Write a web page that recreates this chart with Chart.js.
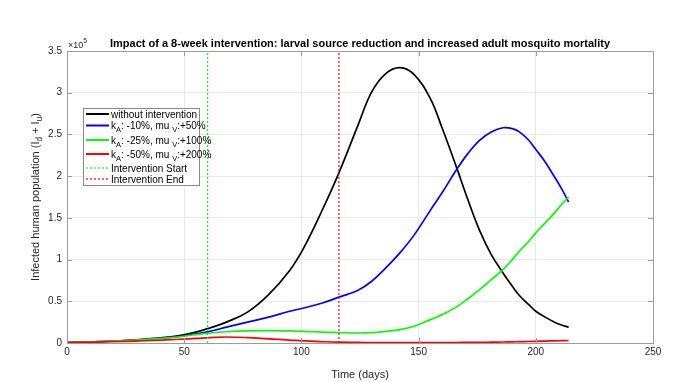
<!DOCTYPE html>
<html>
<head>
<meta charset="utf-8">
<script src="https://cdn.jsdelivr.net/npm/chart.js@4/dist/chart.umd.min.js"></script>
<style>
  html,body{margin:0;padding:0;background:#fff;}
  #wrap{width:697px;height:382px;}
</style>
</head>
<body>
<div id="wrap"><canvas id="c" width="697" height="382"></canvas></div>
<script>
// time (days) and infected humans (x 1e5)
const days = [0,12,25,37,48,55,61,68,77,86,95,101,109,116,124,130,136,142,148,155,160,166,171,176,181,186,190,193,197,200,204,208,211,214];
const noIntervention = [0.005,0.015,0.03,0.055,0.09,0.13,0.18,0.25,0.37,0.58,0.87,1.14,1.60,2.04,2.60,3.01,3.23,3.30,3.22,2.93,2.58,2.12,1.72,1.35,1.06,0.84,0.68,0.57,0.46,0.38,0.31,0.25,0.215,0.19];
const kA10 = [0.005,0.015,0.03,0.05,0.08,0.11,0.14,0.19,0.25,0.31,0.38,0.42,0.48,0.55,0.63,0.74,0.90,1.08,1.29,1.59,1.80,2.07,2.27,2.43,2.53,2.58,2.57,2.53,2.43,2.32,2.17,1.99,1.85,1.69];
const kA25 = [0.005,0.015,0.03,0.05,0.075,0.10,0.12,0.135,0.145,0.148,0.145,0.14,0.13,0.125,0.12,0.125,0.14,0.16,0.20,0.28,0.34,0.43,0.53,0.64,0.76,0.88,1.00,1.10,1.22,1.32,1.44,1.56,1.66,1.75];
const kA50 = [0.003,0.01,0.02,0.03,0.045,0.055,0.065,0.072,0.065,0.05,0.035,0.025,0.016,0.01,0.007,0.005,0.004,0.004,0.004,0.004,0.005,0.006,0.007,0.008,0.01,0.012,0.014,0.016,0.018,0.02,0.023,0.026,0.028,0.03];
const interventionStart = 60, interventionEnd = 116;
const xTicks = [0,50,100,150,200,250];
const yMax = 3.5;

const FONT = '"Liberation Sans", Arial, Helvetica, sans-serif';
const pts = vals => days.map((d,i)=>({x:d,y:vals[i]}));
const vline = d => [{x:d,y:0},{x:d,y:yMax}];

const series = [
  {label:[['without intervention',0]], color:'#000000', data:pts(noIntervention)},
  {label:[['k',0],['A',1],[': -10%, mu ',0],['V',1],[':+50%',0]], color:'#0000ff', data:pts(kA10)},
  {label:[['k',0],['A',1],[': -25%, mu ',0],['V',1],[':+100%',0]], color:'#00ff00', data:pts(kA25)},
  {label:[['k',0],['A',1],[': -50%, mu ',0],['V',1],[':+200%',0]], color:'#ff0000', data:pts(kA50)},
  {label:[['Intervention Start',0]], color:'#00ff00', data:vline(interventionStart), dash:true},
  {label:[['Intervention End',0]], color:'#ff0000', data:vline(interventionEnd), dash:true}
];

function drawRuns(ctx, x, y, runs, size){
  runs.forEach(([t,sub])=>{
    ctx.font = (sub ? size*0.75 : size) + 'px ' + FONT;
    ctx.fillText(t, x, sub ? y+3 : y);
    x += ctx.measureText(t).width;
  });
  return x;
}

const decor = {
  id:'decor',
  afterDraw(chart){
    const {ctx, chartArea:a, scales:{x,y}} = chart;
    ctx.save();
    // axes box + inward ticks
    ctx.strokeStyle = '#9c9c9c'; ctx.lineWidth = 1;
    ctx.strokeRect(Math.round(a.left)+0.5, Math.round(a.top)+0.5, Math.round(a.right-a.left), Math.round(a.bottom-a.top));
    ctx.beginPath();
    xTicks.forEach(v=>{
      const px = Math.round(x.getPixelForValue(v))+0.5;
      ctx.moveTo(px,a.bottom); ctx.lineTo(px,a.bottom-5);
      ctx.moveTo(px,a.top); ctx.lineTo(px,a.top+5);
    });
    for(let v=0; v<=yMax; v+=0.5){
      const py = Math.round(y.getPixelForValue(v))+0.5;
      ctx.moveTo(a.left,py); ctx.lineTo(a.left+5,py);
      ctx.moveTo(a.right,py); ctx.lineTo(a.right-5,py);
    }
    ctx.stroke();

    ctx.fillStyle = '#000';
    ctx.textBaseline = 'alphabetic';
    // title
    ctx.font = 'bold 11px ' + FONT;
    ctx.textAlign = 'center';
    ctx.fillText('Impact of a 8-week intervention: larval source reduction and increased adult mosquito mortality', (a.left+a.right)/2, 47);
    // exponent
    ctx.textAlign = 'left';
    ctx.fillStyle = '#262626';
    ctx.font = '9px ' + FONT;
    ctx.fillText('\u00d710', a.left+1, 48);
    const w = ctx.measureText('\u00d710').width;
    ctx.font = '7px ' + FONT;
    ctx.fillText('5', a.left+1+w, 43);

    // y axis title with subscripts
    ctx.save();
    const yRuns = [['Infected human population (I',0],['d',1],[' + I',0],['u',1],[')',0]];
    let tw = 0;
    yRuns.forEach(([t,sub])=>{ ctx.font=(sub?8.25:11)+'px '+FONT; tw += ctx.measureText(t).width; });
    ctx.translate(39, (a.top+a.bottom)/2);
    ctx.rotate(-Math.PI/2);
    drawRuns(ctx, -tw/2, 0, yRuns, 11);
    ctx.restore();

    // legend
    const lx = 83, ly = 108, lw = 116, lh = 77;
    ctx.fillStyle = '#fff';
    ctx.fillRect(lx, ly, lw, lh);
    ctx.strokeStyle = '#8a8a8a';
    ctx.lineWidth = 1;
    ctx.strokeRect(lx+0.5, ly+0.5, lw, lh);
    const rows = [114,125.5,140,154,168,179];
    series.forEach((s,i)=>{
      const ry = rows[i];
      ctx.strokeStyle = s.color;
      ctx.lineWidth = s.dash ? 1.2 : 2;
      ctx.setLineDash(s.dash ? [2,2] : []);
      ctx.beginPath(); ctx.moveTo(86,ry); ctx.lineTo(109,ry); ctx.stroke();
      ctx.setLineDash([]);
      ctx.fillStyle = '#000';
      drawRuns(ctx, 111, ry+3.5, s.label, 10);
    });
    ctx.restore();
  }
};

new Chart(document.getElementById('c'), {
  type:'line',
  data:{
    datasets: series.map((s,i)=>({
      label: s.label.map(r=>r[0]).join(''),
      data: s.data,
      borderColor: s.color,
      borderWidth: s.dash ? 1.2 : 1.7,
      borderDash: s.dash ? [2,2] : [],
      pointRadius: 0,
      tension: s.dash ? 0 : 0.4,
      fill: false,
      order: 10 - i
    }))
  },
  options:{
    responsive:false,
    animation:false,
    layout:{padding:{top:51,right:44,left:0,bottom:0}},
    plugins:{legend:{display:false}, title:{display:false}, tooltip:{enabled:false}},
    scales:{
      x:{
        type:'linear', min:0, max:250,
        afterBuildTicks: s => { s.ticks = xTicks.map(v=>({value:v})); },
        afterFit: s => { s.height = 39; },
        grid:{color:'#e8e8e8', drawTicks:false},
        border:{display:false},
        ticks:{color:'#262626', font:{family:FONT, size:10}, padding:3, maxRotation:0},
        title:{display:true, text:'Time (days)', color:'#262626', font:{family:FONT, size:11}, padding:{top:2,bottom:0}}
      },
      y:{
        type:'linear', min:0, max:yMax,
        ticks:{stepSize:0.5, color:'#262626', font:{family:FONT, size:10}, padding:5, callback:v=>String(v)},
        afterFit: s => { s.width = 67; },
        grid:{color:'#e8e8e8', drawTicks:false},
        border:{display:false}
      }
    }
  },
  plugins:[decor]
});
</script>
</body>
</html>
